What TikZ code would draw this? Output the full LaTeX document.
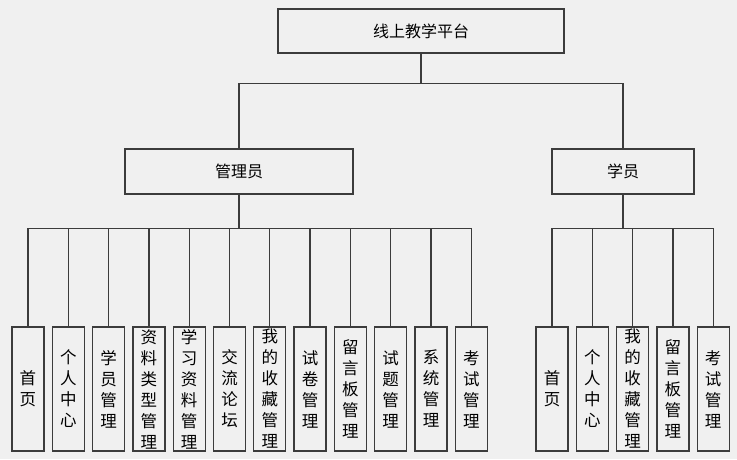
\documentclass[tikz,border=0pt]{standalone}
\usepackage{fontspec}
\setmainfont{Noto Sans CJK SC}
\usepackage{tikz}
\usetikzlibrary{positioning}
\usepackage{xcolor}
\definecolor{pfbg}{RGB}{240,240,240}
\definecolor{pfline}{RGB}{60,60,60}
\tikzstyle{rolebox} = [rectangle, minimum height=45pt, text centered, draw=pfline, line width=1.3pt, font=\fontsize{16}{18}\selectfont]
\tikzstyle{leafbox} = [rectangle, minimum width=32pt, minimum height=124pt, inner sep=0pt, align=center, draw=pfline, line width=1.3pt, font=\fontsize{16.5}{21}\selectfont]
\tikzstyle{link} = [line width=1.3pt, color=pfline]

\begin{document}
\begin{tikzpicture}[x=1pt, y=-1pt, node distance=40.3pt]
% Background
\fill[pfbg] (0,0) rectangle (737,459);

% Platform
\node (platform) [rolebox, minimum width=286pt, minimum height=44pt] at (421,31) {线上教学平台};

% Roles
\node (admin) [rolebox, minimum width=228pt] at (239,171.5) {管理员};
\node (student) [rolebox, minimum width=142pt] at (623,171.5) {学员};

% Admin modules
\node (ahome) [leafbox] at (28,389) {首\\页};
\node (acenter) [leafbox, right of=ahome] {个\\人\\中\\心};
\node (astudent) [leafbox, right of=acenter] {学\\员\\管\\理};
\node (atype) [leafbox, right of=astudent] {资\\料\\类\\型\\管\\理};
\node (amaterial) [leafbox, right of=atype] {学\\习\\资\\料\\管\\理};
\node (aforum) [leafbox, right of=amaterial] {交\\流\\论\\坛};
\node (afav) [leafbox, right of=aforum] {我\\的\\收\\藏\\管\\理};
\node (apaper) [leafbox, right of=afav] {试\\卷\\管\\理};
\node (aboard) [leafbox, right of=apaper] {留\\言\\板\\管\\理};
\node (aquestion) [leafbox, right of=aboard] {试\\题\\管\\理};
\node (asystem) [leafbox, right of=aquestion] {系\\统\\管\\理};
\node (aexam) [leafbox, right of=asystem] {考\\试\\管\\理};

% Student modules
\node (shome) [leafbox] at (552,389) {首\\页};
\node (scenter) [leafbox, right of=shome] {个\\人\\中\\心};
\node (sfav) [leafbox, right of=scenter] {我\\的\\收\\藏\\管\\理};
\node (sboard) [leafbox, right of=sfav] {留\\言\\板\\管\\理};
\node (sexam) [leafbox, right of=sboard] {考\\试\\管\\理};

% Lines
\draw[link] (platform.south) -- ++(0,30) -| (admin.north);
\draw[link] (platform.south) -- ++(0,30) -| (student.north);

\draw[link] (admin.south) -- ++(0,34) -| (ahome.north);
\draw[link] (admin.south) -- ++(0,34) -| (acenter.north);
\draw[link] (admin.south) -- ++(0,34) -| (astudent.north);
\draw[link] (admin.south) -- ++(0,34) -| (atype.north);
\draw[link] (admin.south) -- ++(0,34) -| (amaterial.north);
\draw[link] (admin.south) -- ++(0,34) -| (aforum.north);
\draw[link] (admin.south) -- ++(0,34) -| (afav.north);
\draw[link] (admin.south) -- ++(0,34) -| (apaper.north);
\draw[link] (admin.south) -- ++(0,34) -| (aboard.north);
\draw[link] (admin.south) -- ++(0,34) -| (aquestion.north);
\draw[link] (admin.south) -- ++(0,34) -| (asystem.north);
\draw[link] (admin.south) -- ++(0,34) -| (aexam.north);

\draw[link] (student.south) -- ++(0,34) -| (shome.north);
\draw[link] (student.south) -- ++(0,34) -| (scenter.north);
\draw[link] (student.south) -- ++(0,34) -| (sfav.north);
\draw[link] (student.south) -- ++(0,34) -| (sboard.north);
\draw[link] (student.south) -- ++(0,34) -| (sexam.north);
\end{tikzpicture}
\end{document}
